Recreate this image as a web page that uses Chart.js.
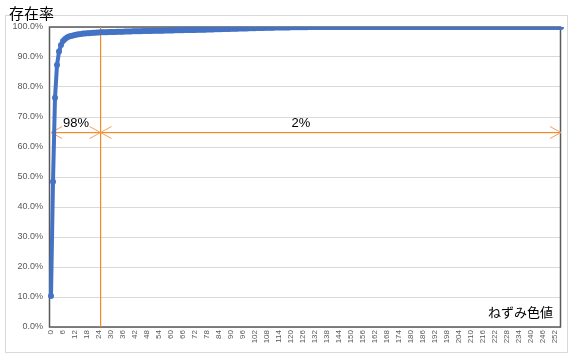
<!DOCTYPE html>
<html>
<head>
<meta charset="utf-8">
<script src="https://cdn.jsdelivr.net/npm/chart.js@4/dist/chart.umd.min.js"></script>
<style>
  html, body { margin: 0; padding: 0; background: #fff; }
  #wrap { width: 573px; height: 355px; position: relative; }
</style>
</head>
<body>
<div id="wrap"><canvas id="chart" width="573" height="355"></canvas></div>
<script>
// data

const yTitle = "存在率";
const xTitle = "ねずみ色値";

// cumulative rate (%) for each gray value 0..255
const rate = [
  10.3, 48.4, 76.4, 87.3, 91.8, 94.0, 95.3, 96.0, 96.5, 96.8,
  97.0, 97.2, 97.35, 97.5, 97.6, 97.7, 97.8, 97.85, 97.9, 97.95,
  98.0, 98.05, 98.1, 98.15, 98.2, 98.22, 98.25, 98.27, 98.29, 98.31,
  98.33, 98.35, 98.37, 98.39, 98.41, 98.43, 98.45, 98.47, 98.49, 98.51,
  98.53, 98.55, 98.57, 98.58, 98.6, 98.62, 98.63, 98.65, 98.67, 98.68,
  98.7, 98.72, 98.73, 98.75, 98.76, 98.78, 98.79, 98.81, 98.82, 98.84,
  98.85, 98.87, 98.88, 98.9, 98.91, 98.93, 98.94, 98.96, 98.97, 98.99,
  99.0, 99.02, 99.03, 99.05, 99.06, 99.08, 99.1, 99.12, 99.14, 99.16,
  99.18, 99.2, 99.22, 99.24, 99.26, 99.28, 99.3, 99.32, 99.34, 99.36,
  99.38, 99.4, 99.42, 99.44, 99.46, 99.48, 99.5, 99.52, 99.54, 99.56,
  99.58, 99.6, 99.62, 99.64, 99.66, 99.68, 99.7, 99.72, 99.74, 99.75,
  99.77, 99.78, 99.8, 99.81, 99.82, 99.83, 99.84, 99.85, 99.86, 99.87,
  99.88, 99.89, 99.9, 99.91, 99.92, 99.93, 99.94, 99.95, 99.95, 99.96,
  99.96, 99.97, 99.97, 99.98, 99.98, 99.98, 99.99, 99.99, 99.99, 99.99,
  100, 100, 100, 100, 100, 100, 100, 100, 100, 100,
  100, 100, 100, 100, 100, 100, 100, 100, 100, 100,
  100, 100, 100, 100, 100, 100, 100, 100, 100, 100,
  100, 100, 100, 100, 100, 100, 100, 100, 100, 100,
  100, 100, 100, 100, 100, 100, 100, 100, 100, 100,
  100, 100, 100, 100, 100, 100, 100, 100, 100, 100,
  100, 100, 100, 100, 100, 100, 100, 100, 100, 100,
  100, 100, 100, 100, 100, 100, 100, 100, 100, 100,
  100, 100, 100, 100, 100, 100, 100, 100, 100, 100,
  100, 100, 100, 100, 100, 100, 100, 100, 100, 100,
  100, 100, 100, 100, 100, 100, 100, 100, 100, 100,
  100, 100, 100, 100, 100, 100
];

// gray values 0..255 as category labels
const grayValues = rate.map((v, i) => String(i));

// orange markers: split at 24, arrows at 65%, labels above
const splitAt = 24;
const arrowLevel = 65;
const noteLevel = 68;
const notes = [
  { text: "98%", at: 12.5 },
  { text: "2%", at: 125 }
];

const orange = "#F08A24";
const blue = "#4472C4";

// plugins

const background = {
  id: "background",
  beforeDraw(chart) {
    const ctx = chart.ctx;
    ctx.save();
    ctx.fillStyle = "#fff";
    ctx.fillRect(0, 0, chart.width, chart.height);
    ctx.strokeStyle = "#D9D9D9";
    ctx.lineWidth = 1;
    ctx.strokeRect(5.5, 15.5, 562, 337);
    ctx.restore();
  }
};

const frameAndNotes = {
  id: "frameAndNotes",
  beforeDatasetsDraw(chart) {
    const { ctx, chartArea: a, scales } = chart;
    const x = scales.x, y = scales.y;
    ctx.save();

    // plot border
    ctx.strokeStyle = "#595959";
    ctx.lineWidth = 1.5;
    ctx.strokeRect(a.left - 1.5, a.top, a.right - a.left + 1, a.bottom - a.top);

    // vertical split line
    const xs = Math.round(x.getPixelForValue(splitAt)) + 1;
    ctx.fillStyle = orange;
    ctx.fillRect(xs, a.top, 1.2, a.bottom - a.top);

    // horizontal arrow line
    const ya = Math.round(y.getPixelForValue(arrowLevel));
    const x0 = x.getPixelForValue(0);
    const x1 = x.getPixelForValue(rate.length - 1);
    ctx.fillRect(x0, ya, x1 - x0, 1.2);

    // arrow heads (open)
    const head = (px, dir) => {
      ctx.beginPath();
      ctx.moveTo(px + dir * 11, ya - 5.5);
      ctx.lineTo(px, ya + 0.5);
      ctx.lineTo(px + dir * 11, ya + 6.5);
      ctx.stroke();
    };
    ctx.strokeStyle = "#F5A05A";
    ctx.lineWidth = 1;
    head(x0, 1);
    head(xs + 0.5, -1);
    head(xs + 0.5, 1);
    head(x1, -1);

    // labels
    ctx.fillStyle = "#000";
    ctx.font = "13px 'Liberation Sans', Arial, sans-serif";
    ctx.textAlign = "center";
    ctx.textBaseline = "middle";
    notes.forEach(n => {
      ctx.fillText(n.text, x.getPixelForValue(n.at), y.getPixelForValue(noteLevel));
    });
    ctx.restore();
  },
  afterDraw(chart) {
    const { ctx, chartArea: a } = chart;
    ctx.save();
    ctx.fillStyle = "#000";
    ctx.font = "15px 'Noto Sans CJK JP', sans-serif";
    ctx.textAlign = "left";
    ctx.textBaseline = "middle";
    ctx.fillText(yTitle, 9, 13);
    ctx.font = "13px 'Noto Sans CJK JP', sans-serif";
    ctx.textAlign = "right";
    ctx.fillText(xTitle, a.right - 8, a.bottom - 15);
    ctx.restore();
  }
};

window.addEventListener("DOMContentLoaded", () => {
  const chartHolder = document.getElementById("chart");
  new Chart(chartHolder, {
    type: "line",
    data: {
      labels: grayValues,
      datasets: [
        {
          data: rate,
          borderColor: blue,
          backgroundColor: blue,
          borderWidth: 4,
          pointRadius: 3,
          pointBorderWidth: 0,
          pointBackgroundColor: blue,
          tension: 0
        }
      ]
    },
    options: {
      responsive: false,
      animation: false,
      devicePixelRatio: 1,
      layout: { padding: { left: 6, right: 12, top: 27, bottom: 8 } },
      plugins: {
        legend: { display: false },
        tooltip: { enabled: false }
      },
      scales: {
        x: {
          offset: false,
          grid: { display: false, drawTicks: false },
          border: { display: false },
          ticks: {
            autoSkip: false,
            maxRotation: 90,
            minRotation: 90,
            padding: 3,
            color: "#595959",
            font: { size: 8, family: "'Liberation Sans', Arial, sans-serif" },
            callback: (v, i) => (i % 6 === 0 ? grayValues[i] : null)
          },
          afterFit: (s) => { s.height = 20; }
        },
        y: {
          min: 0,
          max: 100,
          grid: { color: "#D9D9D9", drawTicks: false },
          border: { display: false },
          ticks: {
            stepSize: 10,
            padding: 8,
            color: "#595959",
            font: { size: 9, family: "'Liberation Sans', Arial, sans-serif" },
            callback: (v) => v.toFixed(1) + "%"
          },
          afterFit: (s) => { s.width = 45; }
        }
      }
    },
    plugins: [background, frameAndNotes]
  });
});
</script>
</body>
</html>
